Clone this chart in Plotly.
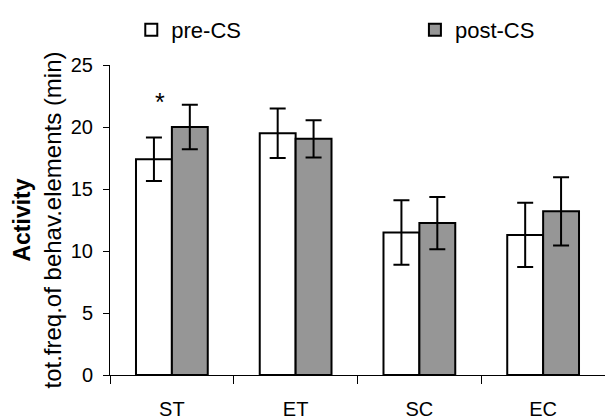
import plotly.graph_objects as go

categories = ["ST", "ET", "SC", "EC"]
pre_cs = [17.4, 19.5, 11.5, 11.3]
pre_err = [1.75, 2.0, 2.6, 2.6]
post_cs = [20.0, 19.05, 12.25, 13.2]
post_err = [1.8, 1.5, 2.1, 2.75]
series_names = ["pre-CS", "post-CS"]
y_ticks = [0, 5, 10, 15, 20, 25]

FONT = "Liberation Sans, Arial, sans-serif"

fig = go.Figure()
fig.add_trace(go.Bar(
    x=categories, y=pre_cs, name=series_names[0], legend="legend",
    marker=dict(color="white", line=dict(color="black", width=2)),
    error_y=dict(type="data", array=pre_err, visible=True, color="black", thickness=2, width=8),
))
fig.add_trace(go.Bar(
    x=categories, y=post_cs, name=series_names[1], legend="legend2",
    marker=dict(color="#969696", line=dict(color="black", width=2)),
    error_y=dict(type="data", array=post_err, visible=True, color="black", thickness=2, width=8),
))

fig.add_annotation(x="ST", y=23.3, text="*", showarrow=False, xshift=-12,
                   yanchor="top", font=dict(size=25, color="black", family=FONT))

leg_common = dict(orientation="h", y=1.113, xanchor="left", yanchor="middle",
                  itemwidth=30, font=dict(size=22), bgcolor="rgba(0,0,0,0)")

fig.update_layout(
    width=605, height=419,
    margin=dict(l=110, r=0, t=65, b=44),
    paper_bgcolor="white", plot_bgcolor="white",
    barmode="group", bargap=0.42, bargroupgap=0,
    font=dict(family=FONT, size=20, color="black"),
    showlegend=True,
    legend=dict(x=0.043, **leg_common),
    legend2=dict(x=0.616, **leg_common),
    xaxis=dict(type="category", range=[-0.5, 3.5], showline=True, linecolor="black", linewidth=1,
               ticks="outside", ticklen=8, tickcolor="black", tickson="boundaries",
               showgrid=False, zeroline=False, ticklabelstandoff=16, tickfont=dict(size=20)),
    yaxis=dict(range=[0, 25], tickvals=y_ticks, showline=True, linecolor="black", linewidth=1,
               ticks="outside", ticklen=6, tickcolor="black", showgrid=False, zeroline=False,
               ticklabelstandoff=6, tickfont=dict(size=20),
               title=dict(text="<b><span style='font-size:23px'>Activity</span></b><br>tot.freq.of behav.elements (min)",
                          font=dict(size=24), standoff=2)),
)

fig.write_html("out.html")
